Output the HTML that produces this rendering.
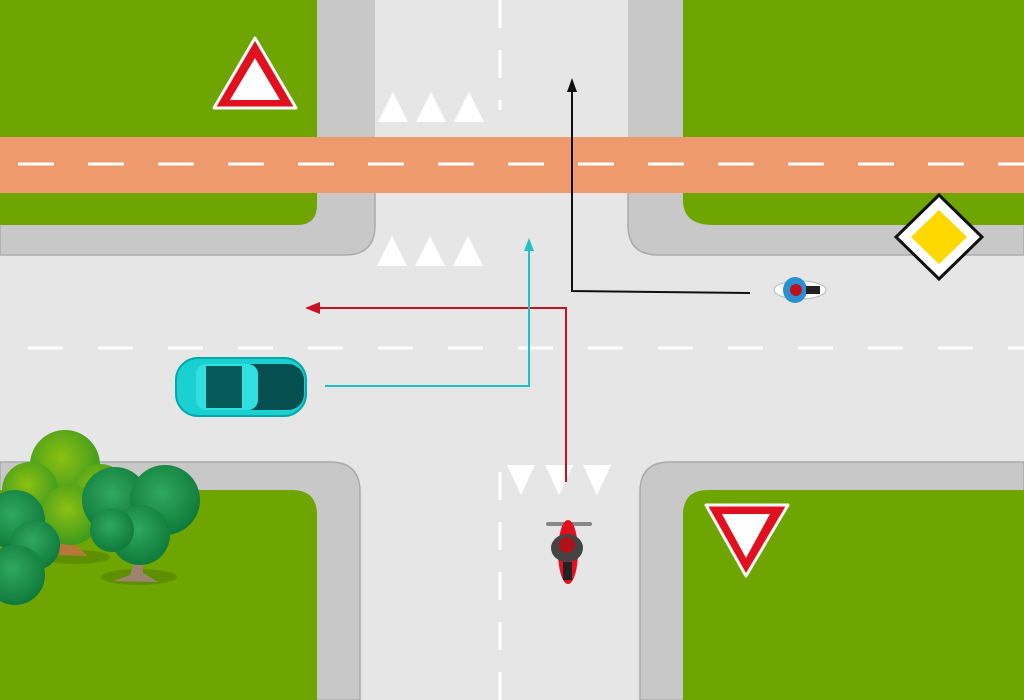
<!DOCTYPE html>
<html><head><style>html,body{margin:0;padding:0;background:#e6e6e6}svg{display:block}</style></head><body>
<svg width="1024" height="700" viewBox="0 0 1024 700" xmlns="http://www.w3.org/2000/svg">
<defs>
<radialGradient id="t1" cx="45%" cy="40%" r="60%"><stop offset="0" stop-color="#8cc010"/><stop offset="1" stop-color="#3e9a1e"/></radialGradient>
<radialGradient id="t2" cx="45%" cy="40%" r="60%"><stop offset="0" stop-color="#30a860"/><stop offset="1" stop-color="#0f7a3a"/></radialGradient>
</defs>
<rect width="1024" height="700" fill="#e6e6e6"/>
<rect x="0" y="0" width="375" height="140" fill="#c8c8c8"/>
<rect x="0" y="0" width="317" height="140" fill="#6ea500"/>
<path d="M0 190 H375 V225 Q375 255 345 255 H0 Z" fill="#c8c8c8" stroke="#aaa" stroke-width="1.5"/>
<path d="M0 190 H317 V205 Q317 225 297 225 H0 Z" fill="#6ea500"/>
<rect x="628" y="0" width="396" height="140" fill="#c8c8c8"/>
<rect x="683" y="0" width="341" height="140" fill="#6ea500"/>
<path d="M628 190 H1024 V255 H658 Q628 255 628 225 Z" fill="#c8c8c8" stroke="#aaa" stroke-width="1.5"/>
<path d="M683 190 H1024 V225 H713 Q683 225 683 200 Z" fill="#6ea500"/>
<rect x="0" y="137" width="1024" height="56" fill="#ef9a6c"/>
<line x1="18" y1="164" x2="1024" y2="164" stroke="#fff" stroke-width="3" stroke-dasharray="36 34"/>
<path d="M0 462 H330 Q360 462 360 492 V700 H0 Z" fill="#c8c8c8" stroke="#aaa" stroke-width="1.5"/>
<path d="M0 490 H292 Q317 490 317 515 V700 H0 Z" fill="#6ea500"/>
<path d="M1024 462 H670 Q640 462 640 492 V700 H1024 Z" fill="#c8c8c8" stroke="#aaa" stroke-width="1.5"/>
<path d="M1024 490 H708 Q683 490 683 515 V700 H1024 Z" fill="#6ea500"/>
<line x1="28" y1="348" x2="1024" y2="348" stroke="#fff" stroke-width="3" stroke-dasharray="35 35"/>
<line x1="500" y1="0" x2="500" y2="110" stroke="#fff" stroke-width="3" stroke-dasharray="28 22"/>
<line x1="500" y1="472" x2="500" y2="700" stroke="#fff" stroke-width="3" stroke-dasharray="28 22"/>
<g fill="#fff">
<polygon points="378,122 393,92 408,122"/><polygon points="416,122 431,92 446,122"/><polygon points="454,122 469,92 484,122"/>
<polygon points="377,266 392,236 407,266"/><polygon points="415,266 430,236 445,266"/><polygon points="453,266 468,236 483,266"/>
<polygon points="507,465 521,495 535,465"/><polygon points="545,465 559,495 573,465"/><polygon points="583,465 597,495 611,465"/>
</g>
<polygon points="255,38 296,108 214,108" fill="#e0101e" stroke="#fff" stroke-width="3" stroke-linejoin="round"/>
<polygon points="255,58 280,100 230,100" fill="#fff"/>
<polygon points="746,576 706,505 788,505" fill="#e0101e" stroke="#fff" stroke-width="3" stroke-linejoin="round"/>
<polygon points="746,558 722,514 770,514" fill="#fff"/>
<polygon points="939,195 982,237 939,279 896,237" fill="#fff" stroke="#111" stroke-width="3"/>
<polygon points="939,210 967,237 939,264 911,237" fill="#ffd800"/>
<ellipse cx="75" cy="557" rx="35" ry="7" fill="#5e8f00"/>
<ellipse cx="139" cy="577" rx="38" ry="8" fill="#5e8f00"/>
<path d="M62 535 L55 555 L88 556 L75 545 Z" fill="#b5783a"/>
<path d="M133 565 L130 575 L113 581 L158 582 L143 573 L143 563 Z" fill="#9c8470"/>
<g fill="url(#t1)"><circle cx="65" cy="465" r="35"/><circle cx="30" cy="490" r="28"/><circle cx="100" cy="492" r="28"/><circle cx="70" cy="515" r="30"/></g>
<g fill="url(#t2)"><circle cx="115" cy="500" r="33"/><circle cx="165" cy="500" r="35"/><circle cx="140" cy="535" r="30"/><circle cx="112" cy="530" r="22"/></g>
<g fill="url(#t2)"><circle cx="15" cy="520" r="30"/><circle cx="35" cy="545" r="25"/><circle cx="15" cy="575" r="30"/></g>
<rect x="176" y="358" width="130" height="58" rx="22" fill="#1ad0d0" stroke="#0aa" stroke-width="2"/>
<rect x="200" y="364" width="104" height="46" rx="16" fill="#064f50"/>
<rect x="196" y="364" width="62" height="46" rx="10" fill="#30e0e0"/>
<rect x="206" y="366" width="36" height="42" fill="#075a5a"/>
<g fill="none" stroke-width="2">
<polyline points="566,482 566,308 318,308" stroke="#c8101e"/>
<polyline points="325,386 529,386 529,250" stroke="#20c0c8"/>
<polyline points="750,293 572,291 572,90" stroke="#111"/>
</g>
<polygon points="305,308 320,302 320,314" fill="#c8101e"/>
<polygon points="529,238 524,251 534,251" fill="#20c0c8"/>
<polygon points="572,78 567,92 577,92" fill="#111"/>
<rect x="546" y="522" width="46" height="4" rx="2" fill="#888"/>
<ellipse cx="568" cy="552" rx="10" ry="32" fill="#e0101e"/>
<ellipse cx="567" cy="548" rx="16" ry="14" fill="#444"/>
<circle cx="567" cy="545" r="8" fill="#b01018"/>
<rect x="563" y="562" width="9" height="18" fill="#222"/>
<ellipse cx="800" cy="290" rx="26" ry="9" fill="#fff" stroke="#bbb"/>
<ellipse cx="795" cy="290" rx="12" ry="13" fill="#2a90d0"/>
<circle cx="796" cy="290" r="6" fill="#c0101e"/>
<rect x="806" y="286" width="14" height="8" fill="#222"/>
</svg>
</body></html>
